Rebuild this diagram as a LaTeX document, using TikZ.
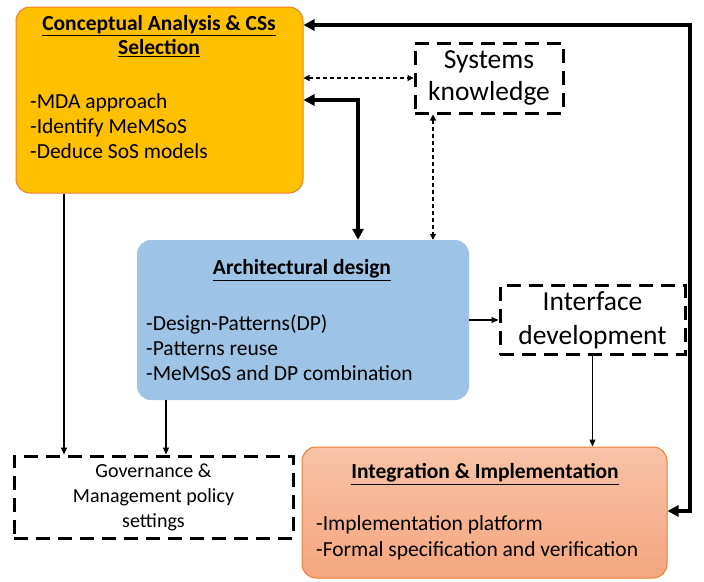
\documentclass[tikz,border=0pt]{standalone}
\usepackage{fontspec}
\setmainfont{Carlito}
\usepackage{xcolor}
\usepackage{tikz}
\usetikzlibrary{arrows.meta}
\usetikzlibrary{calc}
\definecolor{phaseyellow}{HTML}{FFC000}
\definecolor{phaseblue}{HTML}{9DC3E6}
\definecolor{phaseedge}{HTML}{ED7D31}
\definecolor{peachtop}{HTML}{F8C3A7}
\definecolor{peachbot}{HTML}{F4A67F}
\tikzset{
    phasebox/.style={rounded corners=14pt, inner sep=0pt},
    ideabox/.style={draw, line width=3pt, dash pattern=on 14pt off 8pt, inner sep=0pt},
    bodytext/.style={inner sep=0pt, font=\fontsize{21.5}{25}\selectfont},
    bigarrow/.style={line width=3.6pt, {Triangle[length=11pt,width=11pt]}-{Triangle[length=11pt,width=11pt]}},
    hintarrow/.style={line width=1.1pt, dash pattern=on 4pt off 3pt, {Triangle[length=6pt,width=6pt]}-{Triangle[length=6pt,width=6pt]}},
    flowarrow/.style={line width=1.2pt, -{Triangle[length=7pt,width=6pt]}}
}
\begin{document}
\begin{tikzpicture}[x=1pt, y=-1pt]
    \useasboundingbox (0,0) rectangle (704,581);
    \node[phasebox, fill=phaseyellow, draw=phaseedge, line width=1pt, minimum width=287pt, minimum height=186pt] (concept) at (159.5,100) {};
    \node[phasebox, fill=phaseblue, minimum width=332pt, minimum height=160pt] (arch) at (303,320) {};
    \node[phasebox, top color=peachtop, bottom color=peachbot, draw=phaseedge, line width=1pt, minimum width=365pt, minimum height=131pt] (integ) at (484.5,512.5) {};
    \node[ideabox, minimum width=148pt, minimum height=70pt, align=center, font=\fontsize{27.5}{32}\selectfont] (sysk) at (489,78) {Systems\\knowledge};
    \node[ideabox, minimum width=185pt, minimum height=69pt, align=center, font=\fontsize{27.5}{34}\selectfont] (iface) at (592.5,320) {Interface\\development};
    \node[ideabox, minimum width=279pt, minimum height=82pt, align=center, font=\fontsize{20}{25}\selectfont] (gov) at (153.5,497) {Governance \&\\Management policy\\settings};

    \node[bodytext, align=center, font=\bfseries\fontsize{21.5}{24}\selectfont] (concepttitle) at (159,36) {\underline{Conceptual Analysis \& CSs}\\\underline{Selection}};
    \node[bodytext, align=left, anchor=west] (conceptitems) at (30,126) {-MDA approach\\-Identify MeMSoS\\-Deduce SoS models};
    \node[bodytext, font=\bfseries\fontsize{21.5}{25}\selectfont] (archtitle) at (302,270) {\underline{Architectural design}};
    \node[bodytext, align=left, anchor=west] (architems) at (146,348) {-Design-Patterns(DP)\\-Patterns reuse\\-MeMSoS and DP combination};
    \node[bodytext, font=\bfseries\fontsize{21.5}{25}\selectfont] (integtitle) at (485,474) {\underline{Integration \& Implementation}};
    \node[bodytext, align=left, anchor=west, font=\fontsize{21.5}{26}\selectfont] (integitems) at (316,538) {-Implementation platform\\-Formal specification and verification};

    \coordinate (loopup) at (690,25);
    \coordinate (loopdown) at (690,511);
    \coordinate (knee) at (358,100);
    \coordinate (skline) at (433,0);
    \coordinate (govleft) at (64,0);
    \coordinate (govright) at (166,0);

    \draw[bigarrow] (concept.east |- loopup) -- (loopup) -- (loopdown) -- (integ.east |- loopdown);
    \draw[bigarrow] (concept.east |- knee) -- (knee) -- (knee |- arch.north);
    \draw[hintarrow] (concept.east |- sysk.west) -- (sysk.west);
    \draw[hintarrow] (sysk.south -| skline) -- (arch.north -| skline);
    \draw[flowarrow] (arch.east) -- (iface.west);
    \draw[flowarrow] (iface.south) -- (integ.north -| iface.south);
    \draw[flowarrow] (concept.south -| govleft) -- (gov.north -| govleft);
    \draw[flowarrow] (arch.south -| govright) -- (gov.north -| govright);
\end{tikzpicture}
\end{document}
